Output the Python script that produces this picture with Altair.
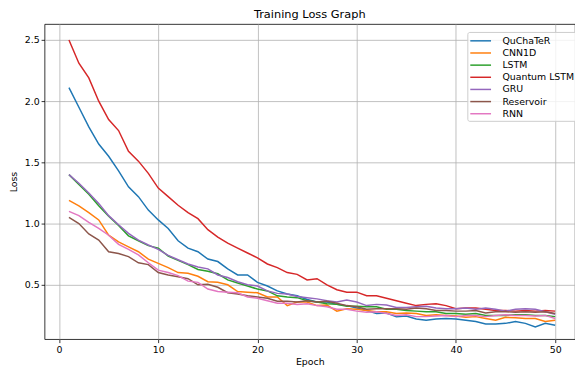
import altair as alt
import pandas as pd

epochs = list(range(1, 51))
series_names = ["QuChaTeR", "CNN1D", "LSTM", "Quantum LSTM", "GRU", "Reservoir", "RNN"]
colors = ["#1f77b4", "#ff7f0e", "#2ca02c", "#d62728", "#9467bd", "#8c564b", "#e377c2"]

quchater = [2.11, 1.95, 1.79, 1.65, 1.55, 1.43, 1.30, 1.22, 1.11, 1.03,
            0.96, 0.86, 0.80, 0.77, 0.71, 0.69, 0.63, 0.58, 0.58, 0.52,
            0.49, 0.45, 0.425, 0.41, 0.38, 0.36, 0.36, 0.34, 0.33, 0.31,
            0.29, 0.265, 0.27, 0.24, 0.245, 0.22, 0.21, 0.22, 0.225, 0.22,
            0.21, 0.20, 0.18, 0.18, 0.185, 0.20, 0.185, 0.155, 0.185, 0.17]
cnn1d = [1.19, 1.145, 1.09, 1.03, 0.905, 0.85, 0.81, 0.77, 0.71, 0.675,
         0.64, 0.60, 0.595, 0.57, 0.525, 0.52, 0.50, 0.445, 0.44, 0.435,
         0.40, 0.40, 0.33, 0.36, 0.36, 0.33, 0.335, 0.285, 0.305, 0.30,
         0.29, 0.28, 0.28, 0.265, 0.27, 0.265, 0.25, 0.255, 0.25, 0.245,
         0.235, 0.24, 0.225, 0.21, 0.235, 0.23, 0.225, 0.225, 0.20, 0.21]
lstm = [1.40, 1.32, 1.24, 1.145, 1.06, 0.985, 0.90, 0.86, 0.82, 0.80,
        0.735, 0.70, 0.665, 0.625, 0.61, 0.59, 0.54, 0.515, 0.49, 0.465,
        0.45, 0.41, 0.40, 0.395, 0.37, 0.36, 0.345, 0.34, 0.325, 0.325,
        0.32, 0.32, 0.30, 0.30, 0.29, 0.285, 0.28, 0.28, 0.265, 0.265,
        0.26, 0.265, 0.25, 0.25, 0.25, 0.255, 0.255, 0.25, 0.25, 0.24]
quantum_lstm = [2.50, 2.31, 2.19, 2.00, 1.85, 1.76, 1.59, 1.51, 1.41, 1.29,
                1.22, 1.15, 1.09, 1.04, 0.95, 0.89, 0.84, 0.80, 0.76, 0.72,
                0.67, 0.64, 0.60, 0.585, 0.54, 0.55, 0.50, 0.46, 0.44, 0.44,
                0.41, 0.41, 0.39, 0.37, 0.35, 0.33, 0.34, 0.345, 0.33, 0.305,
                0.31, 0.31, 0.30, 0.29, 0.29, 0.285, 0.29, 0.285, 0.29, 0.285]
gru = [1.40, 1.33, 1.25, 1.165, 1.065, 0.99, 0.92, 0.865, 0.825, 0.79,
       0.74, 0.705, 0.67, 0.645, 0.63, 0.58, 0.56, 0.525, 0.50, 0.49,
       0.45, 0.43, 0.425, 0.405, 0.395, 0.385, 0.37, 0.36, 0.375, 0.36,
       0.33, 0.34, 0.335, 0.315, 0.315, 0.32, 0.325, 0.31, 0.305, 0.305,
       0.31, 0.30, 0.31, 0.30, 0.285, 0.30, 0.305, 0.30, 0.28, 0.26]
reservoir = [1.05, 1.00, 0.915, 0.865, 0.77, 0.755, 0.73, 0.68, 0.665, 0.60,
             0.58, 0.565, 0.55, 0.50, 0.505, 0.48, 0.435, 0.425, 0.41, 0.40,
             0.39, 0.365, 0.365, 0.36, 0.37, 0.36, 0.365, 0.35, 0.33, 0.32,
             0.30, 0.305, 0.305, 0.305, 0.30, 0.31, 0.305, 0.29, 0.29, 0.285,
             0.285, 0.29, 0.27, 0.28, 0.28, 0.275, 0.28, 0.275, 0.28, 0.265]
rnn = [1.10, 1.065, 1.01, 0.96, 0.905, 0.83, 0.79, 0.745, 0.68, 0.62,
       0.60, 0.575, 0.53, 0.52, 0.465, 0.445, 0.44, 0.435, 0.40, 0.39,
       0.37, 0.35, 0.35, 0.34, 0.345, 0.33, 0.32, 0.30, 0.30, 0.285,
       0.275, 0.28, 0.265, 0.25, 0.255, 0.24, 0.24, 0.245, 0.25, 0.24,
       0.25, 0.25, 0.24, 0.25, 0.255, 0.25, 0.25, 0.245, 0.25, 0.225]

x_ticks = [0, 10, 20, 30, 40, 50]
y_ticks = [0.5, 1.0, 1.5, 2.0, 2.5]

all_series = [quchater, cnn1d, lstm, quantum_lstm, gru, reservoir, rnn]
rows = []
for name, vals in zip(series_names, all_series):
    for e, v in zip(epochs, vals):
        rows.append({"Epoch": e, "Loss": v, "Model": name})
df = pd.DataFrame(rows)

FONT = "DejaVu Sans"

chart = alt.Chart(df).mark_line(strokeWidth=1.5, clip=True).encode(
    x=alt.X("Epoch:Q",
            scale=alt.Scale(domain=[-1.46, 52.0], nice=False, zero=False),
            axis=alt.Axis(values=x_ticks, format="d", title="Epoch", titlePadding=3)),
    y=alt.Y("Loss:Q",
            scale=alt.Scale(domain=[0.056, 2.63], nice=False, zero=False),
            axis=alt.Axis(values=y_ticks, format=".1f", title="Loss", titlePadding=6)),
    color=alt.Color("Model:N",
                    scale=alt.Scale(domain=series_names, range=colors),
                    legend=alt.Legend(title=None, orient="none", legendX=428, legendY=8,
                                      symbolType="M-1.75,0L1.75,0", symbolSize=144,
                                      symbolStrokeWidth=1.5, symbolOffset=4.5,
                                      labelOffset=15, padding=2, rowPadding=0.3,
                                      labelFontSize=9.5, labelFont=FONT, labelColor="black",
                                      fillColor="rgba(255,255,255,0.8)", strokeColor="#cccccc",
                                      cornerRadius=2)),
).properties(
    width=537,
    height=319,
    autosize="none",
    padding={"left": 37, "top": 14, "right": 0, "bottom": 30},
    title=alt.Title("Training Loss Graph", fontSize=11.5, font=FONT, fontWeight="normal",
                    anchor="middle", offset=4, color="black"),
).configure_view(
    stroke="black", strokeWidth=0.8
).configure_axis(
    grid=True, gridColor="#b0b0b0", gridWidth=0.8, domain=False,
    tickColor="black", tickSize=3.5, tickWidth=0.8,
    labelFontSize=9.5, labelFont=FONT, labelColor="black", labelPadding=2,
    titleFont=FONT, titleFontSize=9.5, titleFontWeight="normal", titleColor="black",
)

chart.save("out.html", embed_options={"renderer": "svg", "actions": False})
